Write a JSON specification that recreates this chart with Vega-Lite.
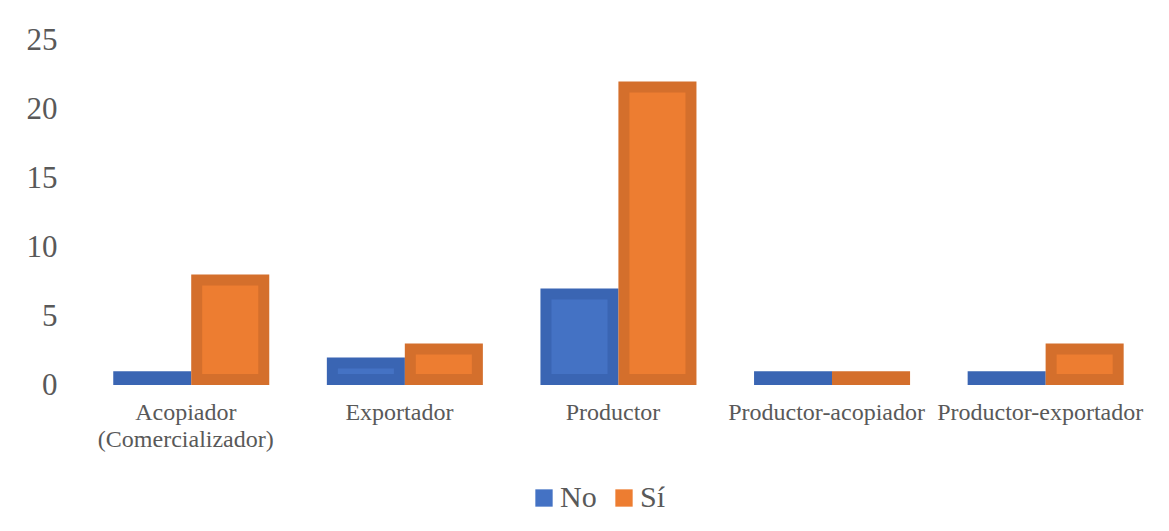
{
  "$schema": "https://vega.github.io/schema/vega-lite/v6.json",
  "autosize": {"type": "none"},
  "width": 1068,
  "height": 345,
  "padding": {"left": 79, "top": 40, "right": 22, "bottom": 146},
  "background": "white",
  "data": {
    "values": [
      {"tipo": "Acopiador (Comercializador)", "resp": "No", "n": 1},
      {"tipo": "Acopiador (Comercializador)", "resp": "Sí", "n": 8},
      {"tipo": "Exportador", "resp": "No", "n": 2},
      {"tipo": "Exportador", "resp": "Sí", "n": 3},
      {"tipo": "Productor", "resp": "No", "n": 7},
      {"tipo": "Productor", "resp": "Sí", "n": 22},
      {"tipo": "Productor-acopiador", "resp": "No", "n": 1},
      {"tipo": "Productor-acopiador", "resp": "Sí", "n": 1},
      {"tipo": "Productor-exportador", "resp": "No", "n": 1},
      {"tipo": "Productor-exportador", "resp": "Sí", "n": 3}
    ]
  },
  "mark": {
    "type": "bar",
    "width": {"band": 0.86},
    "strokeWidth": 11,
    "yOffset": 5.5,
    "y2Offset": -5.5
  },
  "encoding": {
    "x": {
      "field": "tipo",
      "type": "nominal",
      "sort": null,
      "scale": {"paddingInner": 0.27, "paddingOuter": 0.135},
      "axis": {
        "title": null,
        "labelAngle": 0,
        "domain": false,
        "ticks": false,
        "labelFont": "Liberation Serif",
        "labelFontSize": 24,
        "labelColor": "#595959",
        "labelPadding": 15,
        "labelLimit": 400,
        "labelLineHeight": 27,
        "labelExpr": "datum.value == 'Acopiador (Comercializador)' ? ['Acopiador', '(Comercializador)'] : datum.label"
      }
    },
    "xOffset": {"field": "resp", "type": "nominal", "scale": {"padding": 0}},
    "y": {
      "field": "n",
      "type": "quantitative",
      "scale": {"domain": [0, 25]},
      "axis": {
        "title": null,
        "values": [0, 5, 10, 15, 20, 25],
        "domain": false,
        "ticks": false,
        "grid": false,
        "labelFont": "Liberation Serif",
        "labelFontSize": 31,
        "labelColor": "#595959",
        "labelPadding": 22
      }
    },
    "y2": {"datum": 0},
    "fill": {
      "field": "resp",
      "type": "nominal",
      "scale": {"domain": ["No", "Sí"], "range": ["#4472C4", "#ED7D31"]},
      "legend": {
        "title": null,
        "orient": "none",
        "legendX": 450,
        "legendY": 443,
        "direction": "horizontal",
        "labelFont": "Liberation Serif",
        "labelFontSize": 30,
        "labelColor": "#595959",
        "symbolType": "square",
        "symbolSize": 300,
        "symbolStrokeWidth": 0,
        "columnPadding": 12,
        "labelOffset": 1
      }
    },
    "stroke": {
      "field": "resp",
      "type": "nominal",
      "scale": {"domain": ["No", "Sí"], "range": ["#3A65B3", "#D46F2C"]},
      "legend": null
    }
  },
  "config": {
    "view": {"stroke": null},
    "font": "Liberation Serif",
    "legend": {"labelFont": "Liberation Serif"}
  }
}
